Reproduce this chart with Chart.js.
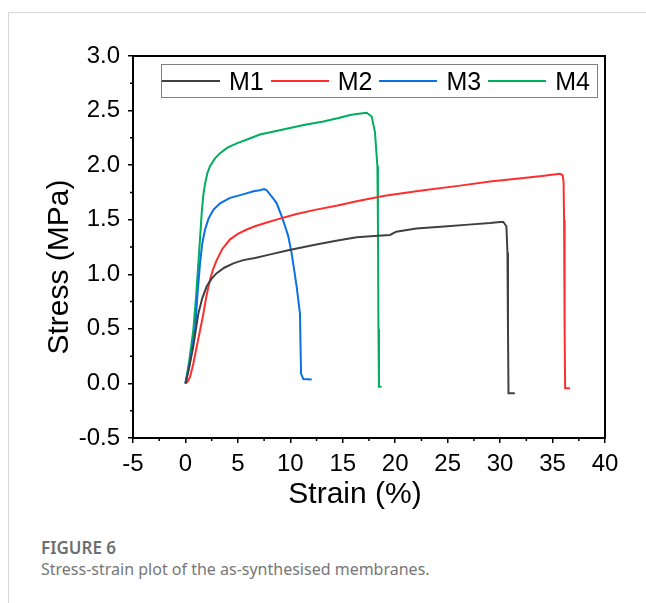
<!DOCTYPE html>
<html>
<head>
<meta charset="utf-8">
<script src="https://cdn.jsdelivr.net/npm/chart.js@4.4.1/dist/chart.umd.min.js"></script>
<style>
  body { margin: 0; background: #fff; width: 646px; height: 603px; overflow: hidden; position: relative; }
  #frame { position: absolute; left: 8px; top: 12px; width: 700px; height: 700px; border-top: 1px solid #d6d6d6; border-left: 1px solid #d6d6d6; }
  #wrap { position: absolute; left: 0; top: 0; width: 646px; height: 515px; }
  #legend { position: absolute; left: 161px; top: 64px; width: 435px; height: 32px; border: 1.5px solid #808080; display: flex; align-items: center; font-family: 'Liberation Sans', Arial, sans-serif; }
  .item { display: flex; align-items: center; margin-right: 7px; }
  .item:last-child { margin-right: 0; }
  .swatch { width: 58px; height: 2px; margin-right: 9px; }
  .lbl { font-size: 25px; color: #000; line-height: 1; }
  #fig { position: absolute; left: 41px; top: 536px; font-family: 'Noto Sans', sans-serif; font-weight: 600; font-size: 17px; color: #6e6e6e; }
  #cap { position: absolute; left: 41px; top: 558px; font-family: 'Noto Sans', sans-serif; font-size: 16px; color: #777; }
</style>
</head>
<body>
<div id="frame"></div>
<div id="wrap"><canvas id="stressStrain" width="646" height="515"></canvas></div>
<div id="legend"></div>
<div id="fig">FIGURE 6</div>
<div id="cap">Stress-strain plot of the as-synthesised membranes.</div>
<script>
// strain (%) / stress (MPa)
const m1Strain = [0, 0.3, 0.75, 1.0, 1.23, 1.6, 2.03, 2.5, 2.98, 3.7, 4.57, 5.5, 6.63, 8.0, 9.8, 12.35, 14.5, 16.33, 18.0, 19.5, 20.1, 22.0, 25.0, 27.0, 29.04, 30.0, 30.3, 30.6, 30.7, 30.75, 30.8, 31.4];
const m1Stress = [0, 0.12, 0.34, 0.50, 0.64, 0.78, 0.89, 0.96, 1.01, 1.06, 1.10, 1.13, 1.15, 1.18, 1.22, 1.27, 1.31, 1.34, 1.35, 1.36, 1.39, 1.42, 1.44, 1.455, 1.47, 1.48, 1.48, 1.44, 1.2, 0.5, -0.09, -0.09];

const m2Strain = [0, 0.2, 0.44, 0.75, 1.08, 1.4, 1.71, 2.0, 2.34, 2.65, 2.98, 3.5, 4.25, 5.0, 5.84, 6.63, 7.6, 9.0, 10.5, 12.35, 14.5, 16.33, 19.0, 22.7, 26.0, 29.04, 32.0, 34.0, 35.7, 35.95, 36.05, 36.1, 36.15, 36.2, 36.66];
const m2Stress = [0, 0.015, 0.06, 0.18, 0.34, 0.49, 0.64, 0.80, 0.95, 1.05, 1.13, 1.23, 1.32, 1.37, 1.41, 1.44, 1.47, 1.51, 1.55, 1.59, 1.63, 1.67, 1.72, 1.77, 1.81, 1.85, 1.88, 1.90, 1.92, 1.91, 1.85, 1.5, 0.5, -0.045, -0.045];

const m3Strain = [0, 0.4, 0.92, 1.15, 1.39, 1.6, 1.87, 2.2, 2.66, 3.3, 4.25, 5.4, 6.5, 7.1, 7.5, 7.75, 8.07, 8.4, 8.7, 9.18, 9.5, 9.8, 10.13, 10.35, 10.6, 10.92, 10.97, 11.02, 11.24, 12.04];
const m3Stress = [0, 0.18, 0.49, 0.82, 1.10, 1.28, 1.41, 1.51, 1.59, 1.65, 1.70, 1.73, 1.76, 1.77, 1.78, 1.77, 1.73, 1.69, 1.65, 1.53, 1.44, 1.35, 1.19, 1.05, 0.89, 0.64, 0.35, 0.09, 0.04, 0.035];

const m4Strain = [0, 0.35, 0.75, 1.0, 1.23, 1.4, 1.55, 1.7, 1.87, 2.1, 2.34, 2.8, 3.3, 4.0, 4.89, 6.0, 7.1, 8.54, 9.97, 11.4, 13.15, 14.5, 15.7, 16.5, 17.28, 17.76, 18.07, 18.3, 18.35, 18.4, 18.45, 18.7];
const m4Stress = [0, 0.2, 0.49, 0.78, 1.10, 1.34, 1.56, 1.72, 1.83, 1.93, 1.99, 2.06, 2.11, 2.16, 2.20, 2.24, 2.28, 2.31, 2.34, 2.37, 2.40, 2.43, 2.46, 2.47, 2.48, 2.445, 2.30, 1.99, 1.5, 0.5, -0.03, -0.03];

const seriesNames = ['M1', 'M2', 'M3', 'M4'];
const xTickValues = [-5, 0, 5, 10, 15, 20, 25, 30, 35, 40];
const yTickValues = [-0.5, 0.0, 0.5, 1.0, 1.5, 2.0, 2.5, 3.0];
const xMinorTicks = [-2.5, 2.5, 7.5, 12.5, 17.5, 22.5, 27.5, 32.5, 37.5];
const yMinorTicks = [-0.25, 0.25, 0.75, 1.25, 1.75, 2.25, 2.75];

const colors = ['#404040', '#ff2e2e', '#0a70e6', '#00ae5e'];
const strains = [m1Strain, m2Strain, m3Strain, m4Strain];
const stresses = [m1Stress, m2Stress, m3Stress, m4Stress];

const tickFont = { family: "'Liberation Sans', Arial, sans-serif", size: 24 };

const frameAndTitles = {
    id: 'frameAndTitles',
    afterDraw(chart) {
        const { ctx, chartArea: a, scales: { x, y } } = chart;
        ctx.save();
        ctx.strokeStyle = '#000';
        ctx.lineWidth = 2;
        ctx.strokeRect(a.left, a.top, a.right - a.left, a.bottom - a.top);
        // minor ticks
        ctx.lineWidth = 1.5;
        ctx.beginPath();
        xMinorTicks.forEach(v => {
            const p = x.getPixelForValue(v);
            ctx.moveTo(p, a.bottom);
            ctx.lineTo(p, a.bottom + 3);
        });
        yMinorTicks.forEach(v => {
            const p = y.getPixelForValue(v);
            ctx.moveTo(a.left, p);
            ctx.lineTo(a.left - 3, p);
        });
        ctx.stroke();
        // axis titles
        ctx.fillStyle = '#000';
        ctx.font = "30px 'Liberation Sans', Arial, sans-serif";
        ctx.textAlign = 'center';
        ctx.textBaseline = 'middle';
        ctx.fillText('Strain (%)', (a.left + a.right) / 2 - 14, 495);
        ctx.translate(60, (a.top + a.bottom) / 2 + 20);
        ctx.rotate(-Math.PI / 2);
        ctx.fillText('Stress (MPa)', 0, 0);
        ctx.restore();
    }
};

const dataStressStrain = {
    datasets: seriesNames.map((name, i) => ({
        label: name,
        data: strains[i].map((v, j) => ({ x: v, y: stresses[i][j] })),
        borderColor: colors[i],
        backgroundColor: colors[i],
        borderWidth: 2,
        pointRadius: 0,
        showLine: true,
        tension: 0
    }))
};

const configStressStrain = {
    type: 'scatter',
    data: dataStressStrain,
    plugins: [frameAndTitles],
    options: {
        responsive: false,
        animation: false,
        layout: { padding: { left: 0, top: 56, right: 41, bottom: 0 } },
        plugins: {
            legend: { display: false },
            tooltip: { enabled: false }
        },
        scales: {
            x: {
                type: 'linear',
                min: -5,
                max: 40,
                afterBuildTicks: s => { s.ticks = xTickValues.map(v => ({ value: v })); },
                afterFit: s => { s.height = 77; },
                border: { display: true, color: '#000', width: 2 },
                grid: { drawOnChartArea: false, drawTicks: true, tickLength: 5, color: '#000', lineWidth: 1.5 },
                ticks: { font: tickFont, color: '#000', padding: 7, maxRotation: 0 }
            },
            y: {
                min: -0.5,
                max: 3,
                afterBuildTicks: s => { s.ticks = yTickValues.map(v => ({ value: v })); },
                afterFit: s => { s.width = 133; },
                border: { display: true, color: '#000', width: 2 },
                grid: { drawOnChartArea: false, drawTicks: true, tickLength: 5, color: '#000', lineWidth: 1.5 },
                ticks: { font: tickFont, color: '#000', padding: 8, callback: v => v.toFixed(1) }
            }
        }
    }
};

const chartStressStrain = new Chart(document.getElementById('stressStrain'), configStressStrain);

// legend box inside the plot, built from the datasets
const legendEl = document.getElementById('legend');
chartStressStrain.data.datasets.forEach(ds => {
    const item = document.createElement('div');
    item.className = 'item';
    const sw = document.createElement('span');
    sw.className = 'swatch';
    sw.style.background = ds.borderColor;
    const lbl = document.createElement('span');
    lbl.className = 'lbl';
    lbl.textContent = ds.label;
    item.appendChild(sw);
    item.appendChild(lbl);
    legendEl.appendChild(item);
});
</script>
</body>
</html>
